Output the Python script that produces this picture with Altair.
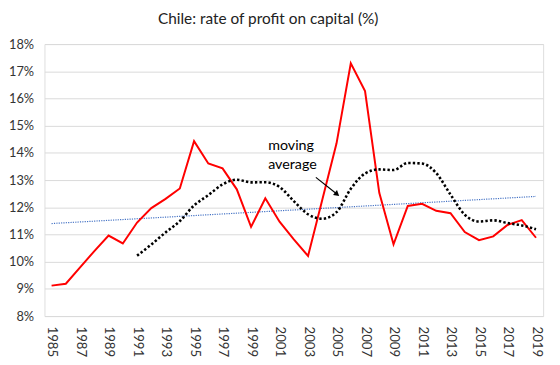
import altair as alt
import pandas as pd

years = list(range(1985, 2020))
rate = [9.12, 9.19, 9.79, 10.39, 10.96, 10.67, 11.44, 11.97, 12.31, 12.69,
        14.43, 13.61, 13.43, 12.66, 11.28, 12.33, 11.47, 10.82, 10.21, 12.28,
        14.35, 17.29, 16.27, 12.53, 10.64, 12.05, 12.13, 11.87, 11.78, 11.09,
        10.79, 10.93, 11.35, 11.53, 10.88]
ma_period = 7
tick_years = list(range(1985, 2020, 2))
y_ticks = list(range(8, 19))

ann_text = ["moving", "average"]
ann_year = [2000.2, 2000.2]
ann_val = [14.25, 13.56]
arrow_year = [2003.55, 2005.04]
arrow_val = [13.10, 12.48]

df = pd.DataFrame({"year": years, "rate": rate})
ann = pd.DataFrame({"year": ann_year, "rate": ann_val, "t": ann_text})
arrow = pd.DataFrame({"year": [arrow_year[0]], "rate": [arrow_val[0]],
                      "year2": [arrow_year[1]], "rate2": [arrow_val[1]]})
head = pd.DataFrame({"year": [arrow_year[1]], "rate": [arrow_val[1]]})

FONT = "Lato"

xscale = alt.Scale(domain=[1984.5, 2019.5], nice=False, zero=False)
yscale = alt.Scale(domain=[8, 18], nice=False, zero=False)

xaxis = alt.Axis(values=tick_years, format="d", labelAngle=90, grid=False,
                 ticks=False, domain=False, labelPadding=10, labelFontSize=13.5,
                 labelColor="#333333", labelFont=FONT, title=None, labelFlush=False,
                 labelOverlap=False, tickCount=35)
yaxis = alt.Axis(values=y_ticks, labelExpr="datum.value + '%'", grid=True,
                 gridColor="#D9D9D9", gridWidth=1, ticks=False, domain=False,
                 labelPadding=11, labelFontSize=13, labelColor="#333333",
                 labelFont=FONT, title=None, labelOverlap=False,
                 labelFlush=False, tickCount=11)


def X(f="year"):
    return alt.X(f + ":Q", scale=xscale, axis=xaxis)


def Y(f="rate"):
    return alt.Y(f + ":Q", scale=yscale, axis=yaxis)


base = alt.Chart(df)

trend = base.transform_regression("year", "rate", method="linear").mark_line(
    color="#4472C4", strokeWidth=1.2, strokeDash=[1.2, 1.2]
).encode(x=X(), y=Y())

red = base.mark_line(color="#FF0000", strokeWidth=2).encode(x=X(), y=Y())

ma = base.transform_window(
    ma="mean(rate)", n="count()", frame=[-(ma_period - 1), 0], sort=[{"field": "year"}]
).transform_filter(alt.datum.n >= ma_period).transform_calculate(
    rate="datum.ma"
).mark_line(
    color="#000000", strokeWidth=2.6, strokeDash=[2.4, 2.2], interpolate="monotone"
).encode(x=X(), y=Y())

txt = alt.Chart(ann).mark_text(align="left", baseline="middle", fontSize=14.5,
                                font=FONT, color="#000000").encode(
    x=X(), y=Y(), text="t:N")

shaft = alt.Chart(arrow).mark_rule(color="#000000", strokeWidth=1.2).encode(
    x=X(), y=Y(), x2="year2:Q", y2="rate2:Q")

arrowhead = alt.Chart(head).mark_point(shape="triangle-right", filled=True,
                                       color="#000000", size=40, angle=39, opacity=1).encode(
    x=X(), y=Y())

chart = alt.layer(trend, red, ma, txt, shaft, arrowhead).properties(
    width=506, height=276,
    autosize=alt.AutoSizeParams(type="none"),
    padding={"left": 37, "top": 34, "right": 9, "bottom": 45},
    title=alt.TitleParams("Chile: rate of profit on capital (%)", font=FONT,
                          fontSize=15.6, fontWeight="normal", color="#222222",
                          anchor="middle", dx=-26, offset=11),
).configure_view(stroke=None).configure(background="white")

chart.save("out.html", embed_options={"renderer": "svg", "actions": False})
